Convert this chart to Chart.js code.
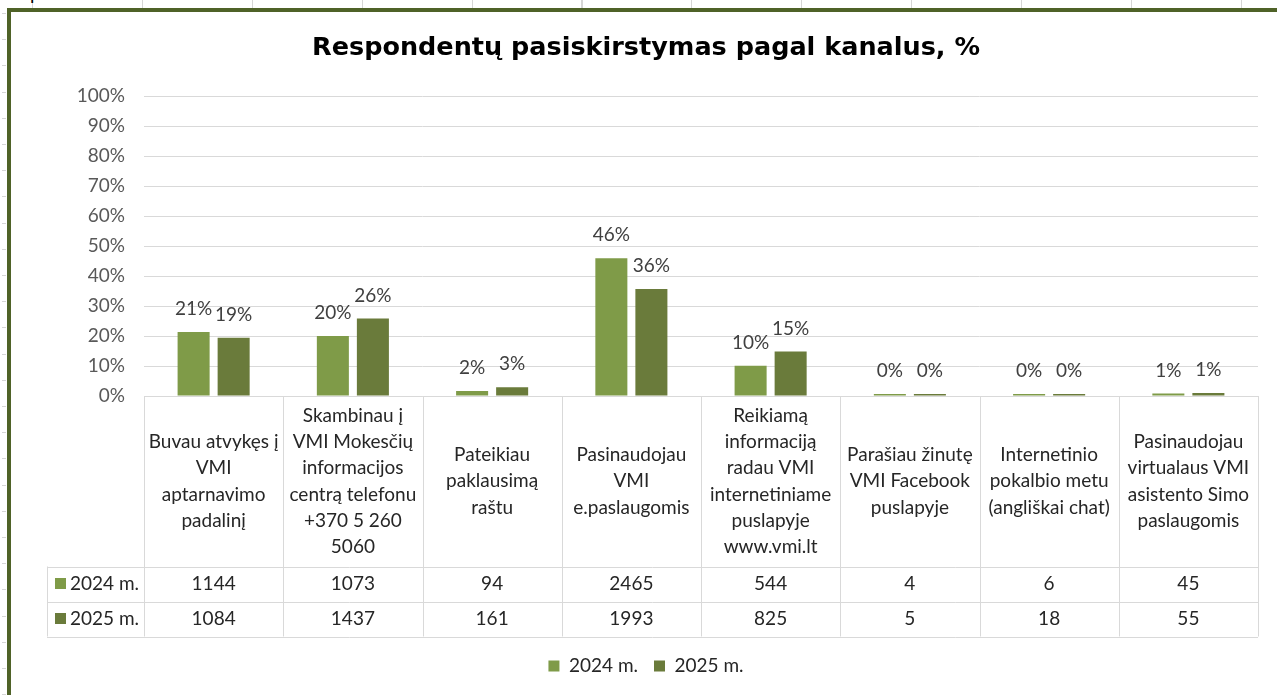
<!DOCTYPE html>
<html lang="lt">
<head>
<meta charset="utf-8">
<title>Respondentų pasiskirstymas pagal kanalus</title>
<script src="https://cdn.jsdelivr.net/npm/chart.js@4.4.1/dist/chart.umd.min.js"></script>
<style>
  html, body { margin: 0; padding: 0; background: #fff; overflow: hidden; width: 1277px; height: 695px; }
  .rows { position: absolute; left: 2px; top: 0; width: 4px; height: 695px;
    background: repeating-linear-gradient(to bottom, transparent 0, transparent 13px, #d6d6d6 13px, #d6d6d6 14px, transparent 14px, transparent 26.2px); }
  .cols { position: absolute; left: 0; top: 0; width: 1277px; height: 8px;
    background: repeating-linear-gradient(to right, transparent 0, transparent 32px, #d6d6d6 32px, #d6d6d6 33px, transparent 33px, transparent 109.9px); }
  .caption { position: absolute; left: 2px; top: -17px; font: 19px Lato, sans-serif; line-height: 19px; word-spacing: 12px; color: #000; }
  .frame { position: absolute; left: 7px; top: 8px; width: 1300px; height: 720px; background: #fff;
    border-left: 4px solid #4f6228; border-top: 4px solid #4f6228; box-sizing: border-box; }
  #wrap { position: absolute; left: 0; top: 0; width: 1296px; height: 695px; }
</style>
</head>
<body>
<div class="rows"></div>
<div class="cols"></div>
<div class="caption">3 pav.</div>
<div class="frame"></div>
<div id="wrap"><canvas id="chart" width="1296" height="695"></canvas></div>

<script>
// kategorijos (lentelės antraštės eilutės jau suskaidytos kaip Excel'yje)
const categories = [
  ['Buvau atvykęs į', 'VMI', 'aptarnavimo', 'padalinį'],
  ['Skambinau į', 'VMI Mokesčių', 'informacijos', 'centrą telefonu', '+370 5 260', '5060'],
  ['Pateikiau', 'paklausimą', 'raštu'],
  ['Pasinaudojau', 'VMI', 'e.paslaugomis'],
  ['Reikiamą', 'informaciją', 'radau VMI', 'internetiniame', 'puslapyje', 'www.vmi.lt'],
  ['Parašiau žinutę', 'VMI Facebook', 'puslapyje'],
  ['Internetinio', 'pokalbio metu', '(angliškai chat)'],
  ['Pasinaudojau', 'virtualaus VMI', 'asistento Simo', 'paslaugomis']
];

const seriesNames = ['2024 m.', '2025 m.'];

// procentai (stulpeliai)
const share2024 = [21.3, 20.0, 1.7, 45.9, 10.1, 0.1, 0.1, 0.8];
const share2025 = [19.4, 25.8, 2.9, 35.7, 14.8, 0.1, 0.3, 1.0];

// respondentų skaičiai (duomenų lentelė)
const count2024 = [1144, 1073, 94, 2465, 544, 4, 6, 45];
const count2025 = [1084, 1437, 161, 1993, 825, 5, 18, 55];

const yTicks = [0, 10, 20, 30, 40, 50, 60, 70, 80, 90, 100];

const colors = ['#7f9b48', '#6a7b3b'];
const FONT = 'Lato, "Open Sans", sans-serif';

// reikšmės virš stulpelių
const barLabels = {
  id: 'barLabels',
  afterDatasetsDraw(chart) {
    const ctx = chart.ctx;
    ctx.save();
    ctx.font = '19px ' + FONT;
    ctx.fillStyle = '#404040';
    ctx.textAlign = 'center';
    ctx.textBaseline = 'middle';
    chart.data.datasets.forEach((ds, di) => {
      chart.getDatasetMeta(di).data.forEach((bar, i) => {
        ctx.fillText(Math.round(ds.data[i]) + '%', bar.x, bar.y - 23);
      });
    });
    ctx.restore();
  }
};

// duomenų lentelė po ašimi
const dataTable = {
  id: 'dataTable',
  afterDraw(chart) {
    const { ctx, chartArea, scales: { x } } = chart;
    const top = chartArea.bottom;
    const headH = 170.5;
    const rowH = 35;
    const keyLeft = 47;
    const colW = (chartArea.right - chartArea.left) / categories.length;
    const bottom = top + headH + rowH * 2;
    const counts = [count2024, count2025];

    ctx.save();
    ctx.strokeStyle = '#d9d9d9';
    ctx.lineWidth = 1;
    ctx.beginPath();
    // horizontalios
    ctx.moveTo(chartArea.left, top + 0.5);
    ctx.lineTo(chartArea.right, top + 0.5);
    for (let r = 0; r <= 2; r++) {
      const yy = Math.round(top + headH + r * rowH) + 0.5;
      ctx.moveTo(keyLeft, yy);
      ctx.lineTo(chartArea.right, yy);
    }
    // vertikalios
    for (let c = 0; c <= categories.length; c++) {
      const xx = Math.round(chartArea.left + c * colW) + 0.5;
      ctx.moveTo(xx, top);
      ctx.lineTo(xx, bottom);
    }
    ctx.moveTo(keyLeft + 0.5, top + headH);
    ctx.lineTo(keyLeft + 0.5, bottom);
    ctx.stroke();

    ctx.font = '19px ' + FONT;
    ctx.fillStyle = '#262626';
    ctx.textAlign = 'center';
    ctx.textBaseline = 'middle';
    const lineH = 26.3;
    categories.forEach((lines, i) => {
      const cx = x.getPixelForValue(i);
      const y0 = top + headH / 2 - (lines.length - 1) * lineH / 2;
      lines.forEach((t, k) => ctx.fillText(t, cx, y0 + k * lineH));
      counts.forEach((arr, r) => {
        ctx.fillText(String(arr[i]), cx, top + headH + rowH * r + rowH / 2);
      });
    });

    ctx.textAlign = 'left';
    seriesNames.forEach((name, r) => {
      const cy = top + headH + rowH * r + rowH / 2;
      ctx.fillStyle = colors[r];
      ctx.fillRect(55, cy - 6, 11, 11);
      ctx.fillStyle = '#262626';
      ctx.fillText(name, 70, cy);
    });
    ctx.restore();
  }
};

const ctx = document.getElementById('chart');

new Chart(ctx, {
  type: 'bar',
  data: {
    labels: categories,
    datasets: [
      { label: seriesNames[0], data: share2024, backgroundColor: colors[0] },
      { label: seriesNames[1], data: share2025, backgroundColor: colors[1] }
    ]
  },
  options: {
    responsive: false,
    animation: false,
    categoryPercentage: 0.575,
    barPercentage: 0.8,
    minBarLength: 2,
    layout: {
      padding: { top: 0, left: 34, right: 38, bottom: 9.5 }
    },
    scales: {
      x: {
        ticks: { display: false },
        grid: { display: false },
        border: { display: false },
        afterFit(scale) {
          scale.height = 244.5;
        }
      },
      y: {
        min: 0,
        max: 100,
        afterBuildTicks(scale) {
          scale.ticks = yTicks.map(v => ({ value: v }));
        },
        afterFit(scale) {
          scale.width = 110;
        },
        ticks: {
          padding: 19,
          color: '#595959',
          font: { size: 19, family: FONT },
          callback: v => v + '%'
        },
        grid: { color: '#d9d9d9', drawTicks: false },
        border: { display: false }
      }
    },
    plugins: {
      title: {
        display: true,
        text: 'Respondentų pasiskirstymas pagal kanalus, %',
        color: '#000',
        font: { size: 25.5, weight: 'bold', family: '"DejaVu Sans", sans-serif', lineHeight: 1.2 },
        padding: { top: 32.7, bottom: 32.7 }
      },
      legend: {
        position: 'bottom',
        labels: {
          color: '#262626',
          boxWidth: 11,
          boxHeight: 11,
          padding: 16,
          font: { size: 19, family: FONT }
        }
      },
      tooltip: { enabled: false }
    }
  },
  plugins: [barLabels, dataTable]
});
</script>
</body>
</html>
